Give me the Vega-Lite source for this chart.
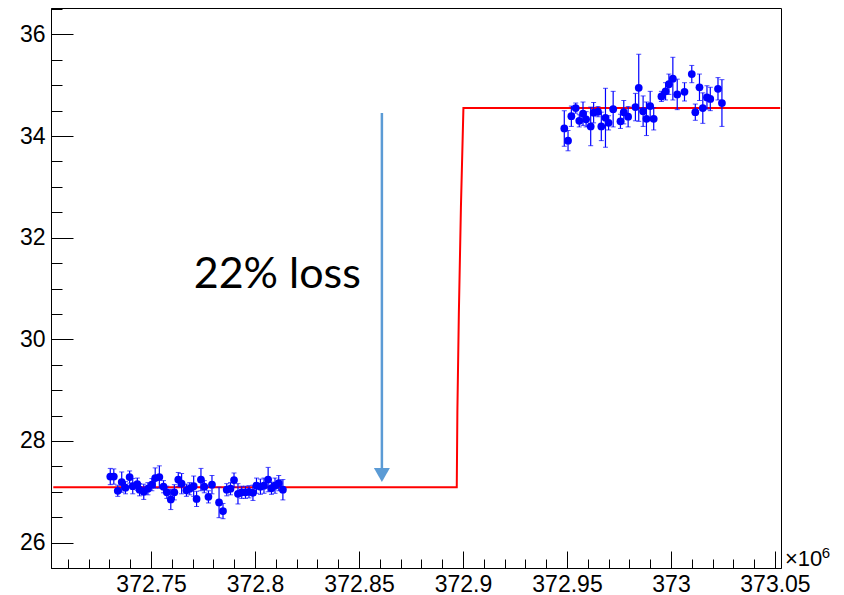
{
  "$schema": "https://vega.github.io/schema/vega-lite/v6.json",
  "width": 730,
  "height": 560,
  "autosize": "none",
  "padding": {"left": 51, "top": 8, "right": 63, "bottom": 27},
  "background": "white",
  "config": {
    "view": {"stroke": "#000000", "strokeWidth": 1},
    "axis": {"grid": false, "domainColor": "#000000", "tickColor": "#000000", "labelColor": "#000000", "labelFont": "Liberation Sans", "labelFontSize": 23, "labelOverlap": false, "labelFlush": false}
  },
  "datasets": {
    "pts": [
      {"t": 372.7304, "v": 27.30, "e": 0.16},
      {"t": 372.7321, "v": 27.30, "e": 0.15},
      {"t": 372.7340, "v": 27.02, "e": 0.11},
      {"t": 372.7359, "v": 27.19, "e": 0.20},
      {"t": 372.7377, "v": 27.08, "e": 0.12},
      {"t": 372.7397, "v": 27.29, "e": 0.12},
      {"t": 372.7412, "v": 27.11, "e": 0.15},
      {"t": 372.7434, "v": 27.15, "e": 0.12},
      {"t": 372.7445, "v": 27.04, "e": 0.12},
      {"t": 372.7465, "v": 27.00, "e": 0.15},
      {"t": 372.7485, "v": 27.06, "e": 0.12},
      {"t": 372.7504, "v": 27.14, "e": 0.12},
      {"t": 372.7520, "v": 27.27, "e": 0.20},
      {"t": 372.7540, "v": 27.29, "e": 0.22},
      {"t": 372.7560, "v": 27.10, "e": 0.12},
      {"t": 372.7576, "v": 26.99, "e": 0.12},
      {"t": 372.7595, "v": 26.85, "e": 0.20},
      {"t": 372.7612, "v": 26.99, "e": 0.15},
      {"t": 372.7631, "v": 27.24, "e": 0.14},
      {"t": 372.7647, "v": 27.16, "e": 0.20},
      {"t": 372.7670, "v": 27.03, "e": 0.12},
      {"t": 372.7686, "v": 27.06, "e": 0.12},
      {"t": 372.7705, "v": 27.11, "e": 0.20},
      {"t": 372.7719, "v": 26.86, "e": 0.15},
      {"t": 372.7740, "v": 27.24, "e": 0.22},
      {"t": 372.7756, "v": 27.10, "e": 0.12},
      {"t": 372.7776, "v": 26.90, "e": 0.12},
      {"t": 372.7793, "v": 27.14, "e": 0.18},
      {"t": 372.7827, "v": 26.79, "e": 0.30},
      {"t": 372.7846, "v": 26.62, "e": 0.15},
      {"t": 372.7864, "v": 27.04, "e": 0.12},
      {"t": 372.7882, "v": 27.06, "e": 0.12},
      {"t": 372.7899, "v": 27.23, "e": 0.14},
      {"t": 372.7918, "v": 26.96, "e": 0.20},
      {"t": 372.7936, "v": 26.99, "e": 0.12},
      {"t": 372.7954, "v": 26.99, "e": 0.12},
      {"t": 372.7971, "v": 27.00, "e": 0.12},
      {"t": 372.7990, "v": 26.98, "e": 0.15},
      {"t": 372.8007, "v": 27.12, "e": 0.15},
      {"t": 372.8026, "v": 27.10, "e": 0.15},
      {"t": 372.8043, "v": 27.12, "e": 0.15},
      {"t": 372.8063, "v": 27.24, "e": 0.24},
      {"t": 372.8079, "v": 27.07, "e": 0.12},
      {"t": 372.8096, "v": 27.12, "e": 0.15},
      {"t": 372.8114, "v": 27.17, "e": 0.15},
      {"t": 372.8134, "v": 27.04, "e": 0.20},
      {"t": 372.9487, "v": 34.15, "e": 0.35},
      {"t": 372.9505, "v": 33.91, "e": 0.20},
      {"t": 372.9521, "v": 34.39, "e": 0.20},
      {"t": 372.9542, "v": 34.55, "e": 0.10},
      {"t": 372.9559, "v": 34.30, "e": 0.12},
      {"t": 372.9577, "v": 34.44, "e": 0.23},
      {"t": 372.9592, "v": 34.33, "e": 0.15},
      {"t": 372.9614, "v": 34.19, "e": 0.38},
      {"t": 372.9628, "v": 34.46, "e": 0.20},
      {"t": 372.9649, "v": 34.48, "e": 0.10},
      {"t": 372.9665, "v": 34.19, "e": 0.28},
      {"t": 372.9685, "v": 34.36, "e": 0.58},
      {"t": 372.9700, "v": 34.26, "e": 0.14},
      {"t": 372.9722, "v": 34.53, "e": 0.35},
      {"t": 372.9757, "v": 34.29, "e": 0.14},
      {"t": 372.9773, "v": 34.47, "e": 0.23},
      {"t": 372.9794, "v": 34.38, "e": 0.20},
      {"t": 372.9829, "v": 34.57, "e": 0.27},
      {"t": 372.9845, "v": 34.95, "e": 0.66},
      {"t": 372.9866, "v": 34.49, "e": 0.30},
      {"t": 372.9882, "v": 34.34, "e": 0.33},
      {"t": 372.9900, "v": 34.59, "e": 0.29},
      {"t": 372.9917, "v": 34.34, "e": 0.22},
      {"t": 372.9954, "v": 34.78, "e": 0.10},
      {"t": 372.9974, "v": 34.88, "e": 0.17},
      {"t": 372.9990, "v": 35.02, "e": 0.20},
      {"t": 373.0009, "v": 35.13, "e": 0.42},
      {"t": 373.0030, "v": 34.82, "e": 0.30},
      {"t": 373.0065, "v": 34.87, "e": 0.18},
      {"t": 373.0100, "v": 35.22, "e": 0.17},
      {"t": 373.0117, "v": 34.47, "e": 0.16},
      {"t": 373.0137, "v": 34.96, "e": 0.26},
      {"t": 373.0153, "v": 34.55, "e": 0.30},
      {"t": 373.0173, "v": 34.76, "e": 0.23},
      {"t": 373.0189, "v": 34.73, "e": 0.23},
      {"t": 373.0226, "v": 34.93, "e": 0.22},
      {"t": 373.0245, "v": 34.65, "e": 0.46}
    ],
    "fit": [
      {"t": 372.7030, "v": 27.09},
      {"t": 372.8970, "v": 27.09},
      {"t": 372.8973, "v": 28.6},
      {"t": 372.8980, "v": 30.5},
      {"t": 372.8990, "v": 32.6},
      {"t": 372.9002, "v": 34.55},
      {"t": 373.0525, "v": 34.55}
    ],
    "one": [{}]
  },
  "layer": [
    {
      "data": {"name": "fit"},
      "mark": {"type": "line", "color": "#ff0000", "strokeWidth": 2},
      "encoding": {
        "x": {"field": "t", "type": "quantitative", "scale": {"domain": [372.7019, 373.0529], "nice": false, "zero": false},
          "axis": {
            "title": null,
            "orient": "bottom",
            "tickCount": 200,
            "values": [372.71,372.72,372.73,372.74,372.75,372.76,372.77,372.78,372.79,372.8,372.81,372.82,372.83,372.84,372.85,372.86,372.87,372.88,372.89,372.9,372.91,372.92,372.93,372.94,372.95,372.96,372.97,372.98,372.99,373,373.01,373.02,373.03,373.04,373.05],
            "tickSize": {"condition": {"test": "abs(round(datum.value*100) % 5) == 0", "value": -17}, "value": -9},
            "labelPadding": 22,
            "labelExpr": "abs(round(datum.value*100) % 5) == 0 ? format(datum.value, '.5~r') : ''"
          }},
        "y": {"field": "v", "type": "quantitative", "scale": {"domain": [25.5, 36.52], "nice": false, "zero": false},
          "axis": {
            "title": null,
            "orient": "left",
            "tickCount": 200,
            "values": [26,26.5,27,27.5,28,28.5,29,29.5,30,30.5,31,31.5,32,32.5,33,33.5,34,34.5,35,35.5,36,36.5],
            "tickSize": {"condition": {"test": "datum.value % 2 == 0", "value": -22}, "value": -11},
            "labelPadding": 28,
            "labelExpr": "datum.value % 2 == 0 ? format(datum.value, 'd') : ''"
          }}
      }
    },
    {
      "data": {"name": "pts"},
      "mark": {"type": "errorbar", "color": "#0000ff", "ticks": {"size": 5, "color": "#0000ff"}, "rule": {"color": "#0000ff", "strokeWidth": 1.2}},
      "encoding": {
        "x": {"field": "t", "type": "quantitative"},
        "y": {"field": "v", "type": "quantitative"},
        "yError": {"field": "e"}
      }
    },
    {
      "data": {"name": "pts"},
      "mark": {"type": "point", "shape": "circle", "filled": true, "color": "#0000ff", "opacity": 1, "size": 60},
      "encoding": {
        "x": {"field": "t", "type": "quantitative"},
        "y": {"field": "v", "type": "quantitative"}
      }
    },
    {
      "data": {"name": "one"},
      "mark": {"type": "rule", "color": "#5b9bd5", "strokeWidth": 2.5},
      "encoding": {
        "x": {"datum": 372.861},
        "y": {"datum": 34.455},
        "y2": {"datum": 27.46}
      }
    },
    {
      "data": {"name": "one"},
      "mark": {"type": "point", "shape": "triangle-down", "filled": true, "color": "#5b9bd5", "opacity": 1, "size": 256},
      "encoding": {
        "x": {"datum": 372.861},
        "y": {"datum": 27.33}
      }
    },
    {
      "data": {"name": "one"},
      "mark": {"type": "text", "text": "22% loss", "font": "Lato", "fontSize": 43, "align": "center", "baseline": "alphabetic", "color": "#000000"},
      "encoding": {
        "x": {"datum": 372.8107},
        "y": {"datum": 31.011}
      }
    },
    {
      "data": {"name": "one"},
      "mark": {"type": "text", "text": "×10", "font": "Liberation Sans", "fontSize": 22, "align": "left", "baseline": "alphabetic", "color": "#000000"},
      "encoding": {
        "x": {"datum": 373.0548},
        "y": {"datum": 25.54}
      }
    },
    {
      "data": {"name": "one"},
      "mark": {"type": "text", "text": "6", "font": "Liberation Sans", "fontSize": 15, "align": "left", "baseline": "alphabetic", "color": "#000000"},
      "encoding": {
        "x": {"datum": 373.0725},
        "y": {"datum": 25.69}
      }
    }
  ]
}
